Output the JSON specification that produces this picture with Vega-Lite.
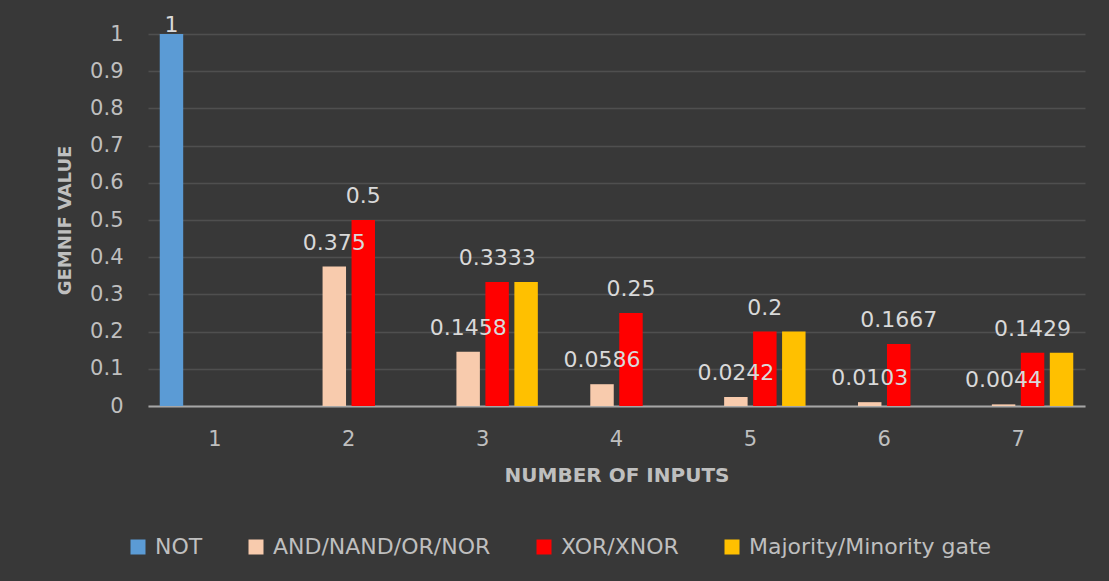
{
  "$schema": "https://vega.github.io/schema/vega-lite/v6.json",
  "width": 937,
  "height": 372,
  "autosize": {"type": "none"},
  "padding": {"left": 148, "top": 34, "right": 24, "bottom": 175},
  "background": "#383838",
  "config": {
    "view": {"stroke": null},
    "font": "DejaVu Sans"
  },
  "data": {
    "values": [
      {"inputs": 1, "gate": "NOT", "value": 1},
      {"inputs": 2, "gate": "AND/NAND/OR/NOR", "value": 0.375},
      {"inputs": 2, "gate": "XOR/XNOR", "value": 0.5},
      {"inputs": 3, "gate": "AND/NAND/OR/NOR", "value": 0.1458},
      {"inputs": 3, "gate": "XOR/XNOR", "value": 0.3333},
      {"inputs": 3, "gate": "Majority/Minority gate", "value": 0.3333},
      {"inputs": 4, "gate": "AND/NAND/OR/NOR", "value": 0.0586},
      {"inputs": 4, "gate": "XOR/XNOR", "value": 0.25},
      {"inputs": 5, "gate": "AND/NAND/OR/NOR", "value": 0.0242},
      {"inputs": 5, "gate": "XOR/XNOR", "value": 0.2},
      {"inputs": 5, "gate": "Majority/Minority gate", "value": 0.2},
      {"inputs": 6, "gate": "AND/NAND/OR/NOR", "value": 0.0103},
      {"inputs": 6, "gate": "XOR/XNOR", "value": 0.1667},
      {"inputs": 7, "gate": "AND/NAND/OR/NOR", "value": 0.0044},
      {"inputs": 7, "gate": "XOR/XNOR", "value": 0.1429},
      {"inputs": 7, "gate": "Majority/Minority gate", "value": 0.1429}
    ]
  },
  "encoding": {
    "x": {
      "field": "inputs",
      "type": "ordinal",
      "title": "NUMBER OF INPUTS",
      "scale": {"domain": [1, 2, 3, 4, 5, 6, 7], "paddingInner": 0, "paddingOuter": 0},
      "axis": {
        "labelAngle": 0,
        "labelFontSize": 21,
        "labelColor": "#bfbfbf",
        "labelPadding": 22,
        "ticks": false,
        "domainColor": "#a6a6a6",
        "domainWidth": 2,
        "titleFontSize": 20,
        "titleFontWeight": "bold",
        "titleColor": "#bfbfbf",
        "titlePadding": 16
      }
    },
    "xOffset": {
      "field": "gate",
      "type": "nominal",
      "scale": {
        "domain": ["NOT", "AND/NAND/OR/NOR", "XOR/XNOR", "Majority/Minority gate"],
        "paddingInner": 0.19,
        "paddingOuter": 0.405
      }
    },
    "y": {
      "field": "value",
      "type": "quantitative",
      "title": "GEMNIF VALUE",
      "scale": {"domain": [0, 1]},
      "axis": {
        "values": [0, 0.1, 0.2, 0.3, 0.4, 0.5, 0.6, 0.7, 0.8, 0.9, 1],
        "format": "~g",
        "labelFontSize": 21,
        "labelColor": "#bfbfbf",
        "labelPadding": 25,
        "ticks": false,
        "domain": false,
        "gridColor": "#4f4f4f",
        "gridWidth": 1.5,
        "titleFontSize": 18,
        "titleFontWeight": "bold",
        "titleColor": "#bfbfbf",
        "titlePadding": 15
      }
    }
  },
  "layer": [
    {
      "mark": {"type": "bar"},
      "encoding": {
        "color": {
          "field": "gate",
          "type": "nominal",
          "scale": {
            "domain": ["NOT", "AND/NAND/OR/NOR", "XOR/XNOR", "Majority/Minority gate"],
            "range": ["#5b9bd5", "#f8cbad", "#ff0000", "#ffc000"]
          },
          "legend": {
            "title": null,
            "orient": "none",
            "direction": "horizontal",
            "legendX": -21,
            "legendY": 502,
            "symbolType": "square",
            "symbolSize": 225,
            "symbolStrokeWidth": 0,
            "labelFontSize": 22,
            "labelColor": "#bfbfbf",
            "labelOffset": 6,
            "columnPadding": 42,
            "labelLimit": 400
          }
        }
      }
    },
    {
      "transform": [{"filter": "datum.gate != 'Majority/Minority gate' && datum.value < 0.95"}],
      "mark": {"type": "text", "baseline": "alphabetic", "dy": -17, "fontSize": 22, "color": "#d9d9d9"},
      "encoding": {
        "text": {"field": "value", "type": "quantitative", "format": "~g"}
      }
    },
    {
      "transform": [{"filter": "datum.gate != 'Majority/Minority gate' && datum.value >= 0.95"}],
      "mark": {"type": "text", "baseline": "alphabetic", "dy": -2, "fontSize": 22, "color": "#d9d9d9"},
      "encoding": {
        "text": {"field": "value", "type": "quantitative", "format": "~g"}
      }
    }
  ]
}
